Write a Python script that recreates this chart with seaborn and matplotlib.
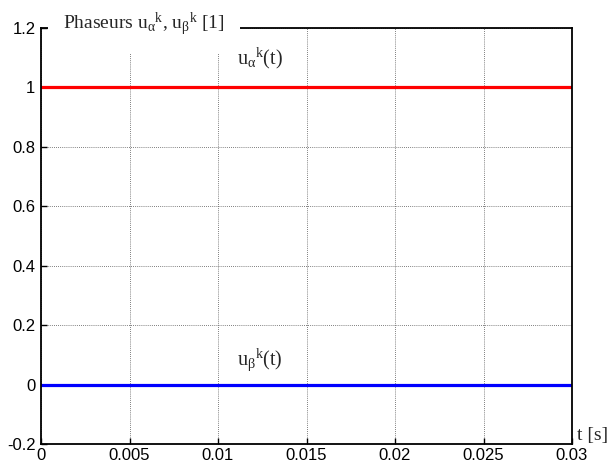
import matplotlib
matplotlib.use("Agg")
import matplotlib.pyplot as plt
import seaborn as sns
import pandas as pd

# Phasor components over one time window
t = [0.0, 0.03]
u_alpha = [1.0, 1.0]
u_beta = [0.0, 0.0]

x_ticks = [0, 0.005, 0.01, 0.015, 0.02, 0.025, 0.03]
x_labels = ["0", "0.005", "0.01", "0.015", "0.02", "0.025", "0.03"]
y_ticks = [-0.2, 0, 0.2, 0.4, 0.6, 0.8, 1, 1.2]
y_labels = ["-0.2", "0", "0.2", "0.4", "0.6", "0.8", "1", "1.2"]

sns.set_theme(style="white")
plt.rcParams["font.family"] = ["Liberation Sans", "DejaVu Sans"]
plt.rcParams["mathtext.fontset"] = "custom"
plt.rcParams["mathtext.rm"] = "Liberation Serif"
plt.rcParams["mathtext.it"] = "Liberation Serif"
plt.rcParams["mathtext.sf"] = "Liberation Serif"

df = pd.DataFrame({"t": t, "ua": u_alpha, "ub": u_beta})

fig = plt.figure(figsize=(6.13, 4.69), dpi=100)
ax = fig.add_axes([41 / 613, 25 / 469, (572 - 41) / 613, (444 - 28) / 469])

sns.lineplot(data=df, x="t", y="ua", ax=ax, color="#ff0000", linewidth=2.3)
sns.lineplot(data=df, x="t", y="ub", ax=ax, color="#0000ff", linewidth=2.3)

ax.set_xlim(0, 0.03)
ax.set_ylim(-0.2, 1.2)
ax.set_xticks(x_ticks)
ax.set_xticklabels(x_labels)
ax.set_yticks(y_ticks)
ax.set_yticklabels(y_labels)
ax.set_xlabel("")
ax.set_ylabel("")
ax.grid(True, color="#555555", linestyle=(0, (1, 1.5)), linewidth=0.6)
ax.tick_params(axis="both", direction="in", length=4, width=1, labelsize=12,
               colors="black")
ax.tick_params(axis="x", pad=3)
ax.tick_params(axis="y", pad=4)
ax.tick_params(axis="both", which="both", top=False, right=False,
               bottom=True, left=True)
for s in ax.spines.values():
    s.set_color("black")
    s.set_linewidth(1.3)

serif = "Liberation Serif"
# Title sits on the top frame line, over a white patch
ax.text(0.00124, 1.212,
        r"Phaseurs u$_{\alpha}{}^{\mathrm{k}}$, u$_{\beta}{}^{\mathrm{k}}$ [1]",
        fontsize=14, family=serif, ha="left", va="center",
        bbox=dict(facecolor="white", edgecolor="none", pad=11),
        zorder=10, clip_on=False)
ax.text(0.01237, 1.077, r"u$_{\alpha}{}^{\mathrm{k}}$(t)", fontsize=14.5,
        family=serif, ha="center", va="baseline")
ax.text(0.01237, 0.067, r"u$_{\beta}{}^{\mathrm{k}}$(t)", fontsize=14.5,
        family=serif, ha="center", va="baseline")
ax.text(1.01, 0.01, "t [s]", transform=ax.transAxes, fontsize=14,
        family=serif, ha="left", va="baseline")

fig.savefig("out.png", dpi=100)
